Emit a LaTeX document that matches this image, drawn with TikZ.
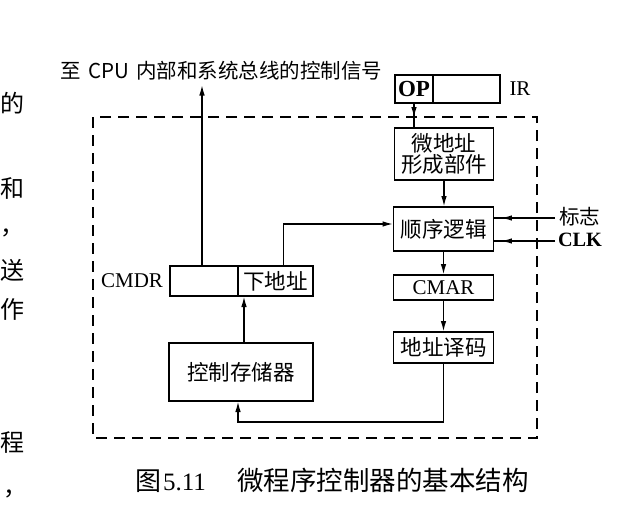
\documentclass[tikz,border=0pt]{standalone}
\usepackage{fontspec}
\setmainfont{Liberation Serif}
\newfontfamily\cjk{Noto Sans CJK SC}
\usetikzlibrary{arrows.meta,decorations.markings}
\begin{document}
\begin{tikzpicture}[x=1pt,y=-1pt,
  every node/.style={inner sep=0pt, outer sep=0pt},
  box/.style={draw, line width=1.6pt},
  zh/.style={font=\cjk\fontsize{21.5}{21}\selectfont},
  zhs/.style={font=\cjk\fontsize{20.5}{21}\selectfont},
  lat/.style={font=\fontsize{21}{21}\selectfont},
  latb/.style={font=\bfseries\fontsize{20.3}{21}\selectfont},
  mg/.style={font=\cjk\fontsize{24}{24}\selectfont},
  conn/.style={line width=1.6pt},
  arr/.style={-{Latex[length=11pt,width=5.5pt]}},
  midarrow/.style={postaction={decorate}, decoration={markings,
      mark=at position #1 with {\arrow{Latex[length=11pt,width=5.5pt]}}}},
  dashbox/.style={line width=1.6pt, dash pattern=on 11pt off 7pt}
]
\useasboundingbox (0,0) rectangle (640,522);

% margin fragments of the page text
\node[mg, anchor=west] (m1) at (0,103) {的};
\node[mg, anchor=west] (m2) at (0,188) {和};
\node[mg, anchor=west] (m3) at (0,233) {，};
\node[mg, anchor=west] (m4) at (0,270) {送};
\node[mg, anchor=west] (m5) at (0,309) {作};
\node[mg, anchor=west] (m6) at (0,443) {程};
\node[mg, anchor=west] (m7) at (3,494) {，};

% dashed frame
\draw[dashbox] (93,117) rectangle (537,438);

% IR
\node[box, font=\bfseries\fontsize{23}{23}\selectfont, minimum width=38, minimum height=28] (op) at (414,89) {OP};
\node[box, minimum width=67, minimum height=28] (irr) at (466.5,89) {};
\node[lat] (irl) at (520,89) {IR};

% right column
\node[box, zh, align=center, minimum width=99, minimum height=52] (wdz) at (444,154) {微地址\\形成部件};
\node[box, zh, minimum width=100, minimum height=44] (sx) at (443.5,229) {顺序逻辑};
\node[box, lat, minimum width=100, minimum height=25] (cmar) at (443.5,287.5) {CMAR};
\node[box, zh, minimum width=100, minimum height=31] (dzym) at (443.5,347.5) {地址译码};

% left column
\node[box, zh, minimum width=144, minimum height=58] (kzcc) at (241,372) {控制存储器};
\node[box, minimum width=68, minimum height=30] (cmdrl) at (204,281) {};
\node[box, zh, minimum width=75, minimum height=30] (cmdrr) at (275.5,281) {下地址};
\node[lat, anchor=east] (cmdrlab) at (163,281) {CMDR};

% labels
\node[zhs, anchor=west] (top) at (60,71) {至\makebox[56pt]{CPU}内部和系统总线的控制信号};
\node[zhs, anchor=west] (flag) at (559,217) {标志};
\node[latb, anchor=west] (clk) at (558,240) {CLK};
\coordinate (fin) at (555,218);
\coordinate (cin) at (555,241);

% connectors
\draw[conn, arr, shorten >=4pt] ([xshift=-2pt]cmdrl.north) -- ([xshift=-2pt]cmdrl.north |- top.south);
\draw[conn, arr] ([xshift=8pt]cmdrr.north) |- ([yshift=5pt]sx.west);
\draw[conn, arr] ([xshift=3pt]kzcc.north) -- ([xshift=3pt]kzcc.north |- cmdrr.south);
\draw[conn, arr] (dzym.south) -- ++(0,59) -| ([xshift=-3pt]kzcc.south);
\draw[conn, arr] (wdz.south) -- (wdz.south |- sx.north);
\draw[conn, arr] (sx.south) -- (cmar.north);
\draw[conn, arr] (cmar.south) -- (dzym.north);
\draw[conn, midarrow=0.6] (op.south) -- (op.south |- wdz.north);
\draw[conn, midarrow=0.88] (fin) -- (fin -| sx.east);
\draw[conn, midarrow=0.88] (cin) -- (cin -| sx.east);

% caption
\node[anchor=west] (cap) at (135,480) {\makebox[28pt][l]{\cjk\fontsize{26}{26}\selectfont 图}\makebox[74pt][l]{\fontsize{25}{25}\selectfont 5.11}{\cjk\fontsize{26.5}{26}\selectfont 微程序控制器的基本结构}};
\end{tikzpicture}
\end{document}
